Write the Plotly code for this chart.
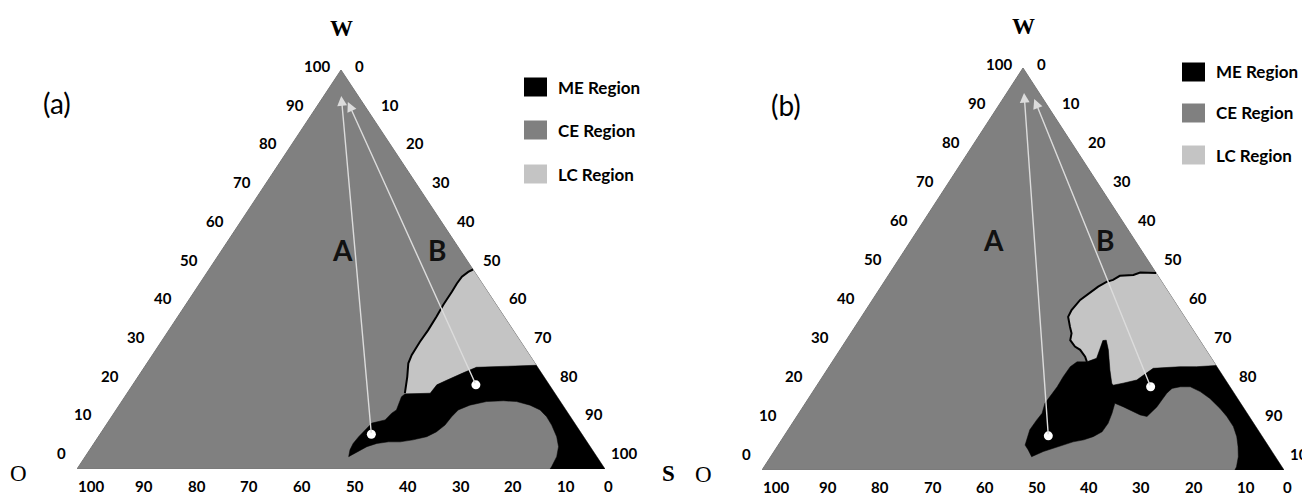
import plotly.graph_objects as go

# ---------------- data (ternary percentages: W = top vertex, S = bottom-right, O = 100 - W - S) ----
TICKS = [0, 10, 20, 30, 40, 50, 60, 70, 80, 90, 100]
LEGEND_NAMES = ["ME Region", "CE Region", "LC Region"]
REGION_COLORS = ["#000000", "#808080", "#c4c4c4"]

# Panel (a)
A_ME_W = [26, 25.8, 25.6, 25.5, 24.1, 22.3, 21.1, 19.0, 18.8, 18.1, 16.5, 14.8, 14.0, 12.3, 11.5, 9.8,
          8.1, 6.4, 4.8, 3.1, 3.5, 4.3, 5.6, 6.4, 6.8, 6.8, 7.3, 8.1, 9.3, 11.0, 13.1, 14.8, 16.0, 16.9,
          17.1, 16.9, 16.0, 14.8, 13.1, 11.0, 8.1, 5.6, 3.1, 0.6, 0, 0]
A_ME_S = [74, 69.1, 65.4, 62.9, 61.1, 58.8, 57.6, 57.4, 52.7, 52.4, 52.7, 53.1, 52.6, 52.2, 50.1, 49.6,
          49.3, 49.1, 49.3, 49.9, 50.3, 51.1, 52.1, 53.6, 55.6, 57.8, 60.0, 62.2, 63.4, 64.2, 64.4, 64.8,
          66.4, 69.1, 72.2, 74.8, 77.8, 80.3, 82.4, 84.4, 86.8, 88.4, 89.3, 89.6, 89.6, 100]
A_LC_W = [50, 49.4, 48.2, 46.5, 44.4, 41.1, 38.2, 34.8, 31.9, 28.6, 26.5, 23.1, 19.0,
          19.0, 21.1, 22.3, 24.1, 25.5, 25.6, 25.8, 26]
A_LC_S = [50, 49.4, 48.8, 48.7, 48.8, 48.8, 49.0, 49.1, 49.0, 49.1, 49.5, 51.0, 52.6,
          57.4, 57.6, 58.8, 61.1, 62.9, 65.4, 69.1, 74]
A_EDGE_N = 13  # first points of the LC list form the outlined CE/LC border
A_DOT_W = [8.7, 21.1]
A_DOT_S = [51.4, 65.0]
A_TIP_W = [93.5, 92.0]
A_TIP_S = [3.3, 5.3]

# Panel (b)
B_ME_W = [26, 25.7, 25.7, 25.5, 25.3, 24.1, 22.4, 21.6, 21.1, 21.6, 24.9, 29.9, 32.3, 32.2, 29.9, 27.8,
          26.9, 26.9, 25.7, 23.2, 20.7, 18.2, 16.6, 14.1, 12.4, 10.0, 7.5, 6.2, 5.0, 3.3, 4.6, 5.4, 6.2,
          7.0, 7.5, 8.3, 9.5, 11.6, 14.1, 16.6, 15.7, 14.5, 13.7, 13.3, 14.1, 15.7, 17.4, 19.1, 20.3,
          20.7, 20.7, 19.5, 17.8, 15.3, 13.3, 10.8, 8.3, 5.8, 3.3, 0.8, 0, 0]
B_ME_S = [74, 70.4, 67.2, 64.8, 62.3, 61.6, 60.6, 58.4, 56.7, 56.2, 54.2, 51.4, 49.8, 49.2, 49.8, 50.2,
          48.8, 46.9, 46.2, 46.1, 46.2, 46.1, 45.9, 46.6, 46.4, 46.3, 47.0, 47.3, 48.5, 50.0, 51.6, 53.1,
          54.6, 56.1, 57.9, 59.3, 60.4, 60.5, 60.0, 59.3, 61.4, 63.9, 65.6, 67.1, 67.3, 67.8, 67.9, 68.0,
          68.4, 69.8, 71.7, 74.2, 76.9, 80.1, 82.4, 84.9, 86.8, 88.3, 89.6, 90.5, 90.6, 100]
B_LC_W = [49, 49.1, 48.5, 48.3, 47.3, 46.8, 45.6, 44.0, 42.3, 39.8, 38.1, 35.6, 34.0, 32.3, 30.7, 29.9,
          28.2, 26.9, 27.8, 29.9, 32.2, 32.3, 29.9, 24.9, 21.6, 21.1, 21.6, 22.4, 24.1, 25.3, 25.5, 25.7,
          25.7, 26]
B_LC_S = [51, 47.9, 46.9, 44.4, 43.6, 42.6, 41.6, 40.8, 39.8, 39.4, 39.6, 41.2, 42.3, 42.9, 44.6, 46.0,
          47.8, 48.8, 50.2, 49.8, 49.2, 49.8, 51.4, 54.2, 56.2, 56.7, 58.4, 60.6, 61.6, 62.3, 64.8, 67.2,
          70.4, 74]
B_EDGE_N = 18
B_DOT_W = [8.5, 20.7]
B_DOT_S = [50.6, 64.1]
B_TIP_W = [93.8, 92.3]
B_TIP_S = [3.3, 6.0]

PATH_NAMES = ["A", "B"]

# ---------------- layout helpers ----------------
W_PX, H_PX = 1302, 496


def px_x(p):
    return p / W_PX


def px_y(p):
    return 1 - p / H_PX


def tx(w, s):
    """ternary (W, S) -> cartesian x (percent of base)"""
    return [si + wi / 2 for wi, si in zip(w, s)]


PANELS = [
    dict(name="(a)", xa="x", ya="y",
         me=(A_ME_W, A_ME_S), lc=(A_LC_W, A_LC_S), edge_n=A_EDGE_N,
         dot=(A_DOT_W, A_DOT_S), tip=(A_TIP_W, A_TIP_S),
         tag_pos=(41, 84), ab_y=250, ab_x=(330, 437),
         leg_sq_x=524, leg_txt_x=556, leg_y=(87, 130, 174), show_s=True),
    dict(name="(b)", xa="x2", ya="y2",
         me=(B_ME_W, B_ME_S), lc=(B_LC_W, B_LC_S), edge_n=B_EDGE_N,
         dot=(B_DOT_W, B_DOT_S), tip=(B_TIP_W, B_TIP_S),
         tag_pos=(786, 86), ab_y=240, ab_x=(1006, 1116),
         leg_sq_x=1182, leg_txt_x=1214, leg_y=(72, 113, 155), show_s=False),
]

fig = go.Figure()
annotations = []
shapes = []

TICK_FONT = dict(family="Lato", size=15, color="black")

for P in PANELS:
    xa, ya = P["xa"], P["ya"]
    # full triangle (CE region background)
    tw, ts = [100, 0, 0, 100], [0, 0, 100, 0]
    fig.add_trace(go.Scatter(x=tx(tw, ts), y=tw, xaxis=xa, yaxis=ya, mode="lines",
                             fill="toself", fillcolor=REGION_COLORS[1],
                             line=dict(color="#767676", width=1), hoverinfo="skip",
                             showlegend=False))
    # LC region
    lw, ls = P["lc"]
    fig.add_trace(go.Scatter(x=tx(lw, ls), y=lw, xaxis=xa, yaxis=ya, mode="lines",
                             fill="toself", fillcolor=REGION_COLORS[2],
                             line=dict(width=0, color=REGION_COLORS[2]), hoverinfo="skip",
                             showlegend=False))
    n = P["edge_n"]
    fig.add_trace(go.Scatter(x=tx(lw[:n], ls[:n]), y=lw[:n], xaxis=xa, yaxis=ya, mode="lines",
                             line=dict(color="black", width=2), hoverinfo="skip",
                             showlegend=False))
    # ME region
    mw, ms = P["me"]
    fig.add_trace(go.Scatter(x=tx(mw, ms), y=mw, xaxis=xa, yaxis=ya, mode="lines",
                             fill="toself", fillcolor=REGION_COLORS[0],
                             line=dict(width=0.5, color="black"), hoverinfo="skip",
                             showlegend=False))
    # arrows (paths A and B)
    dw, ds = P["dot"]
    pw, ps = P["tip"]
    dx, px_ = tx(dw, ds), tx(pw, ps)
    for i in range(len(dw)):
        annotations.append(dict(x=px_[i], y=pw[i], ax=dx[i], ay=dw[i], xref=xa, yref=ya,
                                axref=xa, ayref=ya, showarrow=True, arrowhead=2,
                                arrowsize=1.4, arrowwidth=1.4, arrowcolor="#dcdcdc",
                                standoff=0, startstandoff=0, text=""))
    fig.add_trace(go.Scatter(x=dx, y=dw, xaxis=xa, yaxis=ya, mode="markers",
                             marker=dict(color="white", size=9, line=dict(width=0)),
                             hoverinfo="skip", showlegend=False))

    # tick labels
    for t in TICKS:
        # left side (W axis): 0 bottom .. 100 top
        annotations.append(dict(x=t / 2, y=t, xref=xa, yref=ya, text=f"<b>{t}</b>",
                                showarrow=False, xanchor="right", yanchor="middle",
                                xshift=-9, yshift=4 + 0.12 * (100 - t), font=TICK_FONT))
        # right side (S axis): 0 top .. 100 bottom
        annotations.append(dict(x=50 + t / 2, y=100 - t, xref=xa, yref=ya, text=f"<b>{t}</b>",
                                showarrow=False, xanchor="left", yanchor="middle",
                                xshift=12 - 0.08 * t, yshift=4 + 0.12 * t, font=TICK_FONT))
        # bottom (O axis): 100 left .. 0 right
        annotations.append(dict(x=100 - t, y=0, xref=xa, yref=ya, text=f"<b>{t}</b>",
                                showarrow=False, xanchor="center", yanchor="middle",
                                xshift=min(14, 3 + 1.1 * t), yshift=-17, font=TICK_FONT))

    # vertex labels
    annotations.append(dict(x=50, y=100, xref=xa, yref=ya, text="<b>W</b>", showarrow=False,
                            yshift=42, font=dict(family="Liberation Serif", size=23, color="black")))
    annotations.append(dict(x=0, y=0, xref=xa, yref=ya, text="O", showarrow=False,
                            xshift=-59, yshift=-4,
                            font=dict(family="Liberation Serif", size=23, color="black")))
    if P["show_s"]:
        annotations.append(dict(x=100, y=0, xref=xa, yref=ya, text="<b>S</b>", showarrow=False,
                                xshift=63, yshift=-4,
                                font=dict(family="Liberation Serif", size=23, color="black")))

    # panel tag
    annotations.append(dict(x=px_x(P["tag_pos"][0]), y=px_y(P["tag_pos"][1]), xref="paper",
                            yref="paper", text=P["name"], showarrow=False,
                            font=dict(family="Lato", size=28, color="black")))
    # path names A / B
    for nm, xp in zip(PATH_NAMES, P["ab_x"]):
        annotations.append(dict(x=px_x(xp), y=px_y(P["ab_y"]), xref="paper", yref="paper",
                                text=f"<b>{nm}</b>", showarrow=False,
                                font=dict(family="Lato", size=28, color="#111111")))
    # legend
    for name, col, yy in zip(LEGEND_NAMES, REGION_COLORS, P["leg_y"]):
        shapes.append(dict(type="rect", xref="paper", yref="paper",
                           x0=px_x(P["leg_sq_x"]), x1=px_x(P["leg_sq_x"] + 23),
                           y0=px_y(yy + 9.5), y1=px_y(yy - 9.5),
                           fillcolor=col, line=dict(width=0)))
        annotations.append(dict(x=px_x(P["leg_txt_x"]), y=px_y(yy), xref="paper", yref="paper",
                                text=f"<b>{name}</b>", showarrow=False, xanchor="left",
                                yanchor="middle",
                                font=dict(family="Lato", size=17, color="black")))

ax_common = dict(visible=False, range=[0, 100], fixedrange=True)
fig.update_layout(
    width=W_PX, height=H_PX,
    margin=dict(l=0, r=0, t=0, b=0),
    paper_bgcolor="white", plot_bgcolor="white",
    xaxis=dict(domain=[px_x(77), px_x(605)], **ax_common),
    yaxis=dict(domain=[px_y(469), px_y(70)], **ax_common),
    xaxis2=dict(domain=[px_x(762), px_x(1284)], **ax_common),
    yaxis2=dict(domain=[px_y(470), px_y(68)], **ax_common),
    annotations=annotations, shapes=shapes, showlegend=False,
)

# the page's default 8px body margin would push the fixed-size figure off the window
fig.write_html("out.html", config={"displayModeBar": False},
               post_script="document.body.style.margin='0';document.body.style.overflow='hidden';")
